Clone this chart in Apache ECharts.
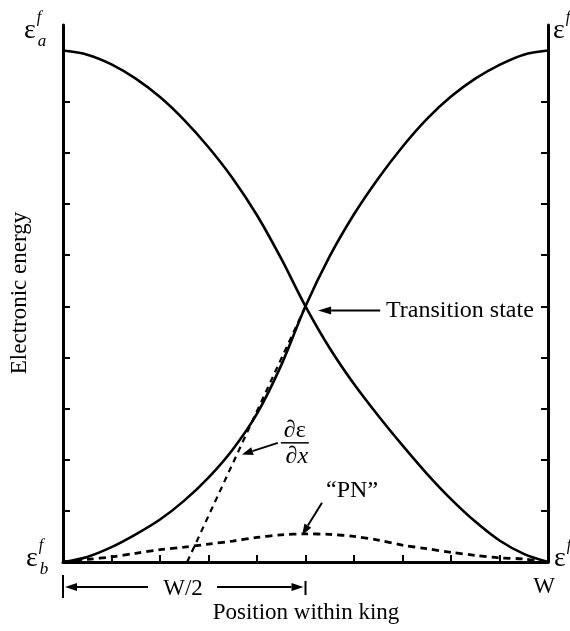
<!DOCTYPE html>
<html><head><meta charset="utf-8">
<script src="https://cdn.jsdelivr.net/npm/echarts@6/dist/echarts.min.js"></script>
<style>html,body{margin:0;padding:0;background:#fff}#c{width:570px;height:631px}</style>
</head><body><div id="c"></div>
<script>
// positions along the kink (0..W = 0..10)
const curveX = [0, 0.5, 1, 1.5, 2, 2.5, 3, 3.5, 4, 4.5, 5, 5.5, 6, 6.5, 7, 7.5, 8, 8.5, 9, 9.5, 10];
// energy of state a (falling) and state b (rising)
const fallY = [10, 9.92, 9.73, 9.45, 9.09, 8.64, 8.11, 7.50, 6.78, 5.93, 5.0, 4.18, 3.48, 2.86, 2.28, 1.73, 1.23, 0.79, 0.42, 0.16, 0];
const riseY = [0, 0.10, 0.29, 0.54, 0.83, 1.20, 1.65, 2.20, 2.90, 3.85, 5.0, 5.98, 6.80, 7.50, 8.12, 8.66, 9.10, 9.45, 9.72, 9.92, 10];
// "PN" barrier
const pnY = [0, 0.05, 0.10, 0.17, 0.24, 0.29, 0.35, 0.41, 0.48, 0.53, 0.55, 0.54, 0.50, 0.43, 0.33, 0.26, 0.19, 0.13, 0.08, 0.06, 0];
// derivative (dashed straight line)
const slopeX = [2.56, 5.0];
const slopeY = [0, 5.0];
const tickValues = [1, 2, 3, 4, 5, 6, 7, 8, 9];

const zip = (xs, ys) => xs.map((x, i) => [x, ys[i]]);
const SERIF = '"Liberation Serif", "DejaVu Serif", serif';
const chart = echarts.init(document.getElementById('c'), null, {renderer: 'canvas'});

const axisCommon = {
  type: 'value', min: 0, interval: 1,
  axisLine: {show: true, lineStyle: {color: '#000', width: 3}},
  axisTick: {show: true, inside: true, length: 7, customValues: tickValues, lineStyle: {color: '#000', width: 2}},
  axisLabel: {show: false}, splitLine: {show: false}
};

chart.setOption({
  animation: false,
  backgroundColor: '#fff',
  grid: {left: 63, right: 22, top: 25, bottom: 69},
  xAxis: Object.assign({}, axisCommon, {max: 10}),
  yAxis: [
    Object.assign({}, axisCommon, {max: 10.5, position: 'left'}),
    Object.assign({}, axisCommon, {max: 10.5, position: 'right'})
  ],
  series: [
    {type: 'line', data: zip(curveX, fallY), smooth: 0.3, showSymbol: false,
     lineStyle: {color: '#000', width: 2.6}},
    {type: 'line', data: zip(curveX, riseY), smooth: 0.3, showSymbol: false,
     lineStyle: {color: '#000', width: 2.6}},
    {type: 'line', data: zip(curveX, pnY), smooth: 0.3, showSymbol: false,
     lineStyle: {color: '#000', width: 2.8, type: [7, 5]}},
    {type: 'line', data: zip(slopeX, slopeY), showSymbol: false,
     lineStyle: {color: '#000', width: 2.2, type: [6, 5]}}
  ]
});

const P = (x, y) => chart.convertToPixel({gridIndex: 0}, [x, y]);
const g = [];
function arrow(from, to, hl, hw, w) {
  const dx = to[0] - from[0], dy = to[1] - from[1];
  const L = Math.hypot(dx, dy), ux = dx / L, uy = dy / L;
  const bx = to[0] - ux * hl, by = to[1] - uy * hl;
  g.push({type: 'line', shape: {x1: from[0], y1: from[1], x2: bx, y2: by}, style: {stroke: '#000', lineWidth: w}});
  g.push({type: 'polygon', shape: {points: [to, [bx - uy * hw, by + ux * hw], [bx + uy * hw, by - ux * hw]]}, style: {fill: '#000'}});
}
function txt(x, y, text, size, opts) {
  g.push(Object.assign({type: 'text', x: x, y: y, style: Object.assign({text: text, font: size + 'px ' + SERIF, fill: '#000', textAlign: 'center', textVerticalAlign: 'middle'}, (opts && opts.style) || {})}, (opts && opts.el) || {}));
}

// Transition state
arrow(P(6.54, 4.92), P(5.26, 4.92), 13, 4, 2);
const ts = P(6.66, 4.92);
txt(ts[0], ts[1], 'Transition state', 24, {style: {textAlign: 'left'}});
// derivative label
const d1 = P(4.43, 2.33), d2 = P(3.69, 2.10);
arrow(d1, d2, 11, 4, 2);
const fx = P(4.78, 2.33);
txt(fx[0], fx[1] - 12, '\u2202\u03b5', 24);
g.push({type: 'line', shape: {x1: fx[0] - 14, y1: fx[1], x2: fx[0] + 14, y2: fx[1]}, style: {stroke: '#000', lineWidth: 1.5}});
txt(fx[0] + 2, fx[1] + 14, '{a|\u2202}{b|x}', 24, {style: {rich: {a: {font: '24px ' + SERIF}, b: {font: 'italic 24px ' + SERIF}}}});
// PN label
arrow(P(5.34, 1.16), P(4.93, 0.53), 11, 4, 2);
const pn = P(5.96, 1.39);
txt(pn[0], pn[1], '\u201cPN\u201d', 24);

// W/2 dimension
const y0 = 587;
const a0 = P(0, 0)[0], a5 = P(5, 0)[0];
g.push({type: 'line', shape: {x1: a0, y1: 575, x2: a0, y2: 598}, style: {stroke: '#000', lineWidth: 2}});
g.push({type: 'line', shape: {x1: a5, y1: 581, x2: a5, y2: 595}, style: {stroke: '#000', lineWidth: 2}});
arrow([148, y0], [a0 + 2, y0], 12, 4, 2);
arrow([217, y0], [a5 - 2, y0], 12, 4, 2);
txt(183, 589, 'W/2', 23);
txt(544, 587, 'W', 23);
txt(306, 613, 'Position within king', 23);
txt(20, 293, 'Electronic energy', 23, {el: {rotation: Math.PI / 2}});

// energy level labels
function eps(x, y, sub) {
  txt(x, y, '\u03b5', 28);
  txt(x + 9, y - 13, 'f', 16, {style: {font: 'italic 16px ' + SERIF}});
  if (sub) txt(x + 12, y + 11, sub, 17, {style: {font: 'italic 17px ' + SERIF}});
}
eps(30, 31, 'a');
eps(32, 559, 'b');
eps(559, 31, null);
eps(560, 559, null);

chart.setOption({graphic: g});
</script></body></html>
